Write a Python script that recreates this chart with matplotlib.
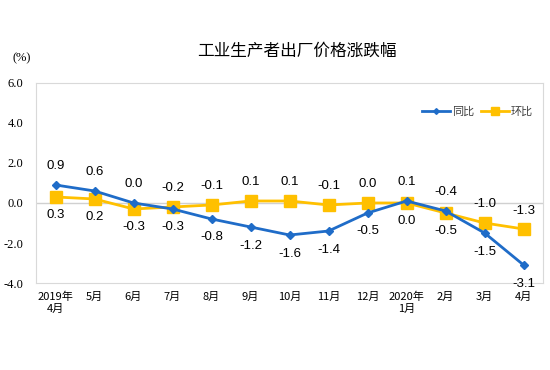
import matplotlib.pyplot as plt

plt.rcParams['font.family'] = ['Noto Sans CJK SC', 'DejaVu Sans']

months = ["2019年\n4月", "5月", "6月", "7月", "8月", "9月", "10月", "11月", "12月",
          "2020年\n1月", "2月", "3月", "4月"]
yoy = [0.9, 0.6, 0.0, -0.3, -0.8, -1.2, -1.6, -1.4, -0.5, 0.1, -0.4, -1.5, -3.1]
mom = [0.3, 0.2, -0.3, -0.2, -0.1, 0.1, 0.1, -0.1, 0.0, 0.0, -0.5, -1.0, -1.3]
# which series gets the label above the point
yoy_above = [True, True, True, False, False, False, False, False, False, True, True, False, False]

blue = "#1F6CC8"
yellow = "#FFC000"

fig = plt.figure(figsize=(5.5, 3.7), dpi=100)
ax = fig.add_axes([0.0655, 0.235, 0.922, 0.541])
x = list(range(len(months)))

ax.axhline(0, color="#D0D0D0", lw=1, zorder=1)
ax.plot(x, yoy, color=blue, lw=2, marker="D", ms=4.5, label="同比", zorder=3)
ax.plot(x, mom, color=yellow, lw=2, marker="s", ms=8, label="环比", zorder=2)

for i in x:
    if yoy_above[i]:
        up_v, dn_v = yoy[i], mom[i]
    else:
        up_v, dn_v = mom[i], yoy[i]
    ax.annotate(f"{up_v:.1f}", (i, up_v), xytext=(0, 9), textcoords="offset points",
                ha="center", va="bottom", fontsize=9.5, family="Liberation Sans")
    ax.annotate(f"{dn_v:.1f}", (i, dn_v), xytext=(0, -9), textcoords="offset points",
                ha="center", va="top", fontsize=9.5, family="Liberation Sans")

ax.set_xlim(-0.5, 12.5)
ax.set_ylim(-4, 6)
ax.set_yticks([-4, -2, 0, 2, 4, 6])
ax.set_yticklabels([f"{v:.1f}" for v in [-4, -2, 0, 2, 4, 6]], family="Liberation Serif", fontsize=9)
ax.set_xticks(x)
ax.set_xticklabels(months, fontsize=8, linespacing=1.3)
ax.tick_params(length=0, pad=6)
ax.tick_params(axis="y", pad=9)
for s in ax.spines.values():
    s.set_color("#D9D9D9")

leg = ax.legend(loc="upper right", frameon=False, ncol=2, handlelength=2.5, markerscale=0.65,
                columnspacing=0.6, handletextpad=0.2, bbox_to_anchor=(1.0, 0.93),
                prop={'size': 8})
for t in leg.get_texts():
    t.set_color("#404040")

fig.text(0.54, 0.862, "工业生产者出厂价格涨跌幅", ha="center", va="center", fontsize=12)
fig.text(0.04, 0.843, "(%)", ha="center", va="center", fontsize=9, family="Liberation Serif")

fig.savefig("out.png")
